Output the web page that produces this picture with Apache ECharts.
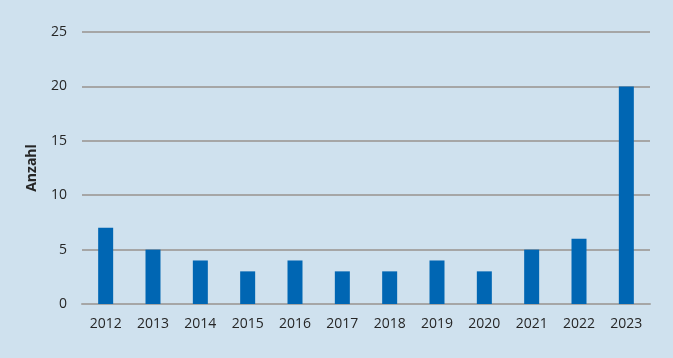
<!DOCTYPE html>
<html>
<head>
<meta charset="utf-8">
<script src="https://cdn.jsdelivr.net/npm/echarts@6/dist/echarts.min.js"></script>
<style>
  html, body { margin: 0; padding: 0; background: #cfe1ee; }
  #chart { width: 673px; height: 358px; }
</style>
</head>
<body>
<div id="chart"></div>
<script>
// Jahre und Anzahl
const years = ['2012', '2013', '2014', '2015', '2016', '2017', '2018', '2019', '2020', '2021', '2022', '2023']
const counts = [7, 5, 4, 3, 4, 3, 3, 4, 3, 5, 6, 20]
const yTicks = { min: 0, max: 25, interval: 5 }

const chart = echarts.init(document.getElementById('chart'))
const font = 'Open Sans, Noto Sans, sans-serif'

chart.setOption({
  backgroundColor: '#cfe1ee',
  animation: false,
  grid: { left: 82, right: 23, top: 32, bottom: 54 },
  xAxis: {
    type: 'category',
    data: years,
    axisLine: { lineStyle: { color: '#a6a6a6', width: 2 } },
    axisTick: { show: false },
    axisLabel: { color: '#262626', fontSize: 14, fontFamily: font, margin: 13 }
  },
  yAxis: {
    type: 'value',
    min: yTicks.min,
    max: yTicks.max,
    interval: yTicks.interval,
    name: 'Anzahl',
    nameLocation: 'middle',
    nameGap: 43,
    nameTextStyle: { color: '#262626', fontSize: 14, fontWeight: 'bold', fontFamily: font },
    axisLine: { show: false },
    axisTick: { show: false },
    axisLabel: { color: '#262626', fontSize: 14, fontFamily: font, margin: 15 },
    splitLine: { lineStyle: { color: '#a6a6a6', width: 2 } }
  },
  series: [
    {
      type: 'bar',
      data: counts,
      barWidth: 15,
      itemStyle: { color: '#0066b3' }
    }
  ]
})
</script>
</body>
</html>
